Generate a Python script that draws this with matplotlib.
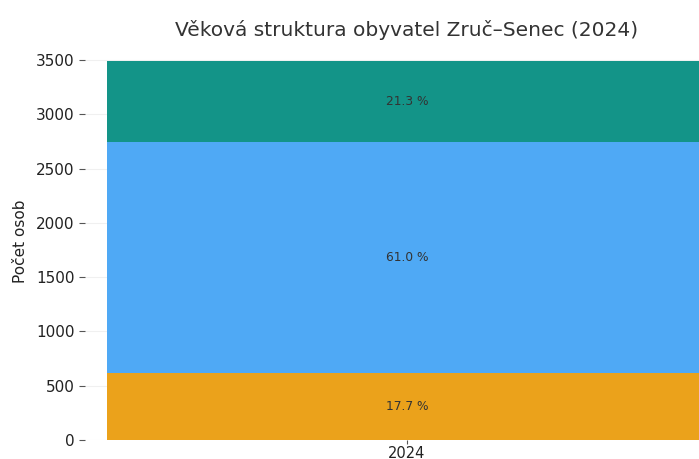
import numpy as np
import matplotlib
matplotlib.use("Agg")
import matplotlib.pyplot as plt

# Age structure of Zruč-Senec population, 2024
years = ["2024"]
groups = ["0-14", "15-64", "65+"]
counts = [618, 2128, 744]
colors = ["#EBA21B", "#4FA9F5", "#139488"]

total = sum(counts)
shares = [c / total * 100 for c in counts]

fig = plt.figure(figsize=(6.99, 4.59), dpi=100)
# axes runs past the right edge (reference is cropped there)
ax = fig.add_axes([85 / 699, 19 / 459, 644 / 699, 398 / 459])

bottom = 0
for grp, val, pct, col in zip(groups, counts, shares, colors):
    ax.bar(years, [val], bottom=bottom, width=0.8, color=col, label=grp, zorder=2)
    ax.text(0, bottom + val / 2, f"{pct:.1f} %", ha="center", va="center",
            fontsize=8.8, color="#333333", zorder=3)
    bottom += val

ax.set_xlim(-0.429, 0.429)
ax.set_ylim(0, 3665)
ax.set_yticks(np.arange(0, 3501, 500))
ax.yaxis.grid(True, color="#f0f0f0", linewidth=0.8, zorder=0)
for s in ax.spines.values():
    s.set_visible(False)
ax.tick_params(axis="both", labelsize=11, length=4, color="#555555", labelcolor="#222222")
ax.tick_params(axis="x", pad=1, length=3, labelsize=10.5)
ax.set_ylabel("Počet osob", fontsize=11, color="#222222", labelpad=6)
ax.set_title("Věková struktura obyvatel Zruč–Senec (2024)", fontsize=14.5,
             color="#333333", x=0.5, pad=4)

plt.savefig("out.png", dpi=100)
